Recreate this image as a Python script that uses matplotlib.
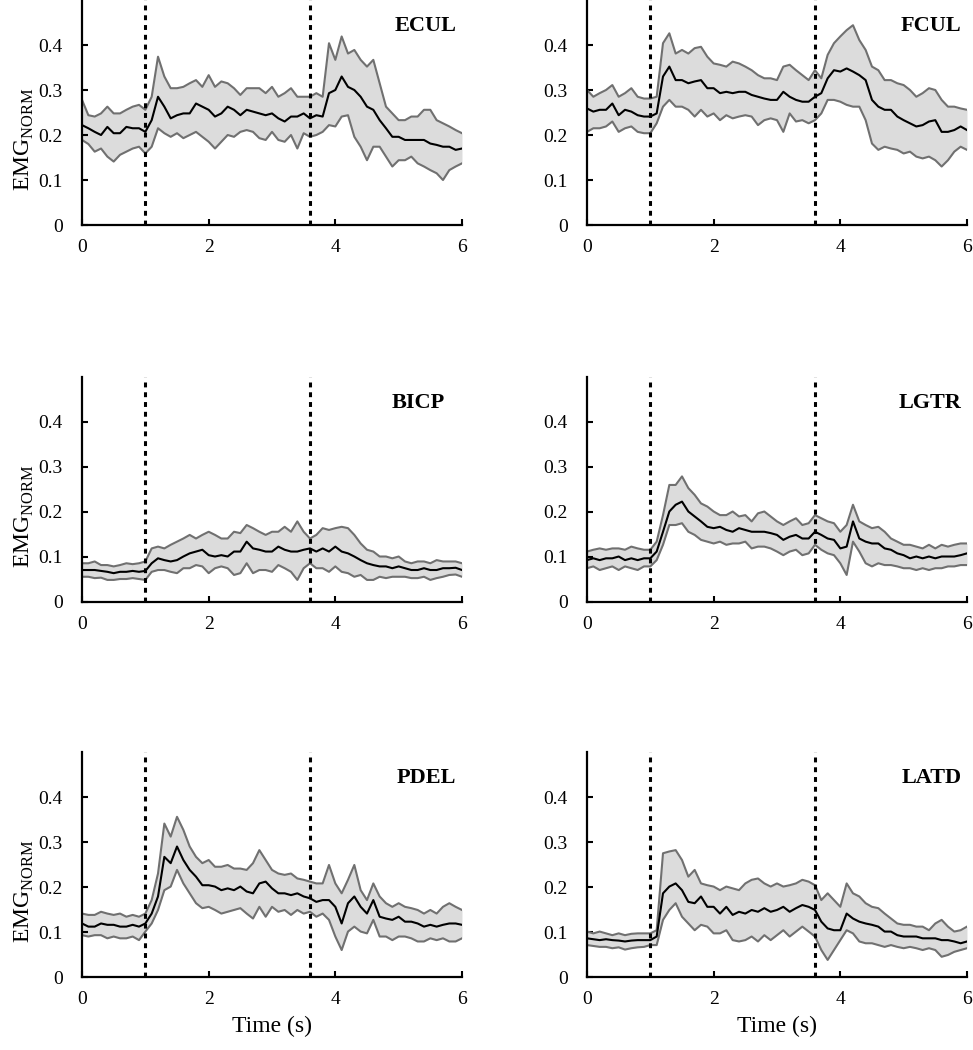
import numpy as np
import matplotlib
matplotlib.use("Agg")
import matplotlib.pyplot as plt

plt.rcParams['font.family'] = ['Liberation Serif', 'DejaVu Serif']
plt.rcParams['mathtext.fontset'] = 'custom'
plt.rcParams['mathtext.rm'] = 'Liberation Serif'

# time axis (s), sampled every 0.1 s
t = np.round(np.arange(0, 61) * 0.1, 1)
onsets = [1.0, 3.6]
yticks = [0, 0.1, 0.2, 0.3, 0.4]
ytick_labels = ['0', '0.1', '0.2', '0.3', '0.4']
xticks = [0, 2, 4, 6]

# ECUL
ecul_mean = [0.222, 0.215, 0.207, 0.200, 0.218, 0.204, 0.204, 0.218, 0.215, 0.215, 0.207,
             0.233, 0.285, 0.263, 0.237, 0.244, 0.248, 0.248, 0.270, 0.263, 0.256,
             0.241, 0.248, 0.263, 0.256, 0.244, 0.256, 0.252, 0.248, 0.244, 0.248,
             0.237, 0.230, 0.241, 0.241, 0.248, 0.237, 0.244, 0.241, 0.293, 0.300,
             0.330, 0.307, 0.300, 0.285, 0.263, 0.256, 0.233, 0.215, 0.196, 0.196,
             0.189, 0.189, 0.189, 0.189, 0.181, 0.178, 0.174, 0.174, 0.167, 0.170]
ecul_hi = [0.278, 0.244, 0.241, 0.248, 0.263, 0.248, 0.248, 0.256, 0.263, 0.267, 0.256,
           0.285, 0.374, 0.330, 0.304, 0.304, 0.307, 0.315, 0.322, 0.307, 0.333,
           0.307, 0.319, 0.315, 0.304, 0.289, 0.304, 0.304, 0.304, 0.293, 0.307,
           0.285, 0.293, 0.304, 0.285, 0.285, 0.285, 0.293, 0.285, 0.404, 0.367,
           0.419, 0.381, 0.389, 0.367, 0.352, 0.367, 0.315, 0.263, 0.248, 0.233,
           0.233, 0.241, 0.241, 0.256, 0.256, 0.233, 0.226, 0.219, 0.211, 0.204]
ecul_lo = [0.189, 0.180, 0.163, 0.170, 0.152, 0.141, 0.156, 0.163, 0.170, 0.174, 0.159,
           0.174, 0.215, 0.204, 0.196, 0.204, 0.193, 0.200, 0.207, 0.196, 0.185,
           0.170, 0.185, 0.200, 0.196, 0.207, 0.211, 0.207, 0.193, 0.189, 0.207,
           0.189, 0.185, 0.200, 0.170, 0.204, 0.196, 0.200, 0.207, 0.222, 0.219,
           0.241, 0.244, 0.196, 0.174, 0.144, 0.174, 0.174, 0.152, 0.130, 0.144,
           0.144, 0.152, 0.137, 0.130, 0.122, 0.115, 0.100, 0.122, 0.130, 0.137]

# FCUL
fcul_mean = [0.259, 0.252, 0.256, 0.256, 0.270, 0.244, 0.256, 0.252, 0.244, 0.241, 0.241,
             0.248, 0.330, 0.352, 0.322, 0.322, 0.315, 0.319, 0.322, 0.304, 0.304,
             0.293, 0.296, 0.293, 0.296, 0.296, 0.289, 0.285, 0.281, 0.278, 0.278,
             0.296, 0.285, 0.278, 0.274, 0.274, 0.285, 0.293, 0.326, 0.344, 0.341,
             0.348, 0.341, 0.333, 0.322, 0.278, 0.263, 0.256, 0.256, 0.241, 0.233,
             0.226, 0.219, 0.222, 0.230, 0.233, 0.207, 0.207, 0.211, 0.219, 0.211]
fcul_hi = [0.300, 0.285, 0.293, 0.300, 0.311, 0.285, 0.293, 0.304, 0.285, 0.281, 0.281,
           0.285, 0.404, 0.426, 0.381, 0.389, 0.381, 0.393, 0.396, 0.374, 0.359,
           0.356, 0.352, 0.363, 0.359, 0.352, 0.344, 0.333, 0.326, 0.326, 0.322,
           0.352, 0.356, 0.344, 0.333, 0.322, 0.344, 0.326, 0.378, 0.404, 0.419,
           0.433, 0.444, 0.411, 0.389, 0.352, 0.344, 0.322, 0.322, 0.315, 0.311,
           0.300, 0.285, 0.293, 0.304, 0.300, 0.278, 0.263, 0.263, 0.259, 0.256]
fcul_lo = [0.207, 0.215, 0.215, 0.219, 0.230, 0.207, 0.215, 0.219, 0.207, 0.204, 0.204,
           0.226, 0.263, 0.278, 0.263, 0.263, 0.256, 0.241, 0.256, 0.241, 0.248,
           0.233, 0.244, 0.237, 0.241, 0.244, 0.241, 0.222, 0.233, 0.237, 0.233,
           0.207, 0.248, 0.230, 0.233, 0.226, 0.233, 0.248, 0.278, 0.278, 0.274,
           0.267, 0.263, 0.263, 0.233, 0.181, 0.167, 0.174, 0.170, 0.167, 0.159,
           0.163, 0.152, 0.148, 0.152, 0.144, 0.130, 0.144, 0.163, 0.174, 0.167]

# BICP
bicp_mean = [0.071, 0.071, 0.071, 0.069, 0.067, 0.064, 0.067, 0.067, 0.069, 0.067, 0.069,
             0.086, 0.097, 0.093, 0.090, 0.093, 0.101, 0.108, 0.112, 0.116, 0.104,
             0.101, 0.104, 0.101, 0.112, 0.112, 0.134, 0.119, 0.116, 0.112, 0.112,
             0.123, 0.116, 0.112, 0.112, 0.116, 0.119, 0.112, 0.119, 0.112, 0.123,
             0.112, 0.108, 0.101, 0.093, 0.086, 0.082, 0.079, 0.079, 0.075, 0.079,
             0.075, 0.071, 0.071, 0.075, 0.071, 0.071, 0.075, 0.075, 0.076, 0.071]
bicp_hi = [0.086, 0.086, 0.090, 0.082, 0.082, 0.079, 0.082, 0.086, 0.084, 0.086, 0.090,
           0.119, 0.123, 0.119, 0.127, 0.134, 0.141, 0.149, 0.141, 0.149, 0.156,
           0.149, 0.141, 0.141, 0.156, 0.153, 0.171, 0.164, 0.156, 0.149, 0.156,
           0.156, 0.167, 0.156, 0.179, 0.156, 0.141, 0.149, 0.164, 0.160, 0.164,
           0.167, 0.164, 0.149, 0.130, 0.116, 0.112, 0.101, 0.101, 0.097, 0.101,
           0.090, 0.086, 0.090, 0.090, 0.086, 0.093, 0.090, 0.090, 0.090, 0.086]
bicp_lo = [0.056, 0.056, 0.053, 0.054, 0.049, 0.049, 0.051, 0.051, 0.053, 0.051, 0.049,
           0.067, 0.071, 0.071, 0.067, 0.064, 0.075, 0.075, 0.082, 0.079, 0.064,
           0.075, 0.079, 0.075, 0.060, 0.064, 0.086, 0.064, 0.071, 0.071, 0.067,
           0.082, 0.075, 0.067, 0.049, 0.075, 0.086, 0.075, 0.075, 0.067, 0.079,
           0.067, 0.064, 0.056, 0.060, 0.049, 0.049, 0.056, 0.053, 0.056, 0.056,
           0.056, 0.053, 0.053, 0.056, 0.049, 0.053, 0.056, 0.060, 0.061, 0.056]

# LGTR
lgtr_mean = [0.093, 0.097, 0.093, 0.097, 0.097, 0.101, 0.093, 0.097, 0.093, 0.097, 0.097,
             0.112, 0.156, 0.201, 0.216, 0.223, 0.201, 0.190, 0.179, 0.167, 0.164,
             0.167, 0.160, 0.156, 0.164, 0.160, 0.156, 0.156, 0.156, 0.153, 0.149,
             0.138, 0.145, 0.149, 0.141, 0.141, 0.156, 0.149, 0.141, 0.138, 0.119,
             0.123, 0.179, 0.141, 0.134, 0.130, 0.130, 0.119, 0.116, 0.108, 0.104,
             0.097, 0.101, 0.097, 0.101, 0.097, 0.101, 0.101, 0.101, 0.104, 0.108]
lgtr_hi = [0.112, 0.116, 0.119, 0.116, 0.119, 0.119, 0.116, 0.123, 0.119, 0.116, 0.116,
           0.134, 0.193, 0.260, 0.260, 0.279, 0.253, 0.238, 0.219, 0.212, 0.201,
           0.193, 0.193, 0.201, 0.190, 0.193, 0.179, 0.197, 0.201, 0.190, 0.179,
           0.171, 0.179, 0.186, 0.171, 0.175, 0.193, 0.186, 0.179, 0.175, 0.156,
           0.171, 0.216, 0.179, 0.171, 0.164, 0.167, 0.156, 0.141, 0.134, 0.127,
           0.127, 0.123, 0.119, 0.127, 0.119, 0.127, 0.123, 0.127, 0.130, 0.130]
lgtr_lo = [0.075, 0.079, 0.071, 0.075, 0.079, 0.071, 0.079, 0.075, 0.071, 0.079, 0.079,
           0.093, 0.127, 0.171, 0.171, 0.175, 0.156, 0.149, 0.138, 0.134, 0.130,
           0.134, 0.127, 0.130, 0.130, 0.134, 0.119, 0.123, 0.123, 0.119, 0.112,
           0.104, 0.112, 0.116, 0.104, 0.108, 0.127, 0.116, 0.108, 0.104, 0.086,
           0.060, 0.134, 0.112, 0.086, 0.079, 0.086, 0.082, 0.082, 0.079, 0.075,
           0.075, 0.071, 0.075, 0.071, 0.075, 0.075, 0.079, 0.079, 0.082, 0.082]

# PDEL
pdel_mean = [0.119, 0.112, 0.112, 0.119, 0.116, 0.116, 0.112, 0.112, 0.116, 0.112, 0.119,
             0.141, 0.179, 0.267, 0.253, 0.290, 0.260, 0.238, 0.223, 0.204, 0.204,
             0.201, 0.193, 0.197, 0.193, 0.201, 0.190, 0.186, 0.208, 0.212, 0.197,
             0.186, 0.186, 0.182, 0.186, 0.179, 0.175, 0.167, 0.171, 0.171, 0.156,
             0.119, 0.164, 0.179, 0.156, 0.141, 0.171, 0.134, 0.130, 0.127, 0.134,
             0.123, 0.123, 0.119, 0.112, 0.116, 0.112, 0.116, 0.119, 0.119, 0.116]
pdel_hi = [0.141, 0.138, 0.138, 0.145, 0.141, 0.138, 0.141, 0.134, 0.138, 0.134, 0.141,
           0.171, 0.230, 0.341, 0.312, 0.356, 0.327, 0.290, 0.267, 0.253, 0.260,
           0.245, 0.245, 0.249, 0.241, 0.241, 0.238, 0.253, 0.282, 0.260, 0.238,
           0.230, 0.227, 0.230, 0.219, 0.216, 0.212, 0.208, 0.208, 0.249, 0.208,
           0.186, 0.216, 0.249, 0.193, 0.171, 0.208, 0.179, 0.164, 0.156, 0.164,
           0.156, 0.153, 0.149, 0.141, 0.149, 0.141, 0.156, 0.164, 0.156, 0.149]
pdel_lo = [0.093, 0.090, 0.093, 0.093, 0.086, 0.090, 0.086, 0.086, 0.090, 0.082, 0.101,
           0.119, 0.149, 0.193, 0.201, 0.238, 0.208, 0.186, 0.164, 0.153, 0.156,
           0.149, 0.141, 0.145, 0.149, 0.153, 0.141, 0.130, 0.156, 0.134, 0.156,
           0.145, 0.149, 0.138, 0.149, 0.141, 0.145, 0.134, 0.141, 0.127, 0.090,
           0.060, 0.101, 0.112, 0.101, 0.097, 0.127, 0.090, 0.090, 0.082, 0.090,
           0.090, 0.086, 0.079, 0.079, 0.086, 0.082, 0.086, 0.079, 0.079, 0.086]

# LATD
latd_mean = [0.086, 0.084, 0.082, 0.084, 0.082, 0.081, 0.079, 0.081, 0.082, 0.082, 0.082,
             0.090, 0.186, 0.201, 0.208, 0.193, 0.167, 0.164, 0.179, 0.156, 0.156,
             0.141, 0.156, 0.138, 0.145, 0.141, 0.149, 0.145, 0.153, 0.145, 0.149,
             0.156, 0.145, 0.153, 0.160, 0.156, 0.149, 0.123, 0.108, 0.104, 0.104,
             0.141, 0.130, 0.123, 0.119, 0.116, 0.112, 0.101, 0.101, 0.093, 0.090,
             0.090, 0.090, 0.086, 0.086, 0.086, 0.082, 0.082, 0.079, 0.075, 0.079]
latd_hi = [0.101, 0.097, 0.101, 0.097, 0.093, 0.097, 0.093, 0.096, 0.097, 0.097, 0.097,
           0.104, 0.275, 0.279, 0.282, 0.260, 0.223, 0.238, 0.208, 0.204, 0.201,
           0.193, 0.201, 0.197, 0.193, 0.208, 0.216, 0.219, 0.208, 0.201, 0.208,
           0.201, 0.204, 0.208, 0.216, 0.212, 0.204, 0.171, 0.186, 0.171, 0.156,
           0.208, 0.186, 0.179, 0.164, 0.156, 0.153, 0.141, 0.130, 0.119, 0.116,
           0.116, 0.112, 0.112, 0.104, 0.119, 0.127, 0.112, 0.101, 0.104, 0.112]
latd_lo = [0.071, 0.069, 0.067, 0.067, 0.064, 0.066, 0.061, 0.064, 0.066, 0.067, 0.071,
           0.071, 0.127, 0.149, 0.164, 0.134, 0.119, 0.104, 0.116, 0.112, 0.097,
           0.097, 0.104, 0.082, 0.079, 0.082, 0.090, 0.079, 0.093, 0.082, 0.093,
           0.104, 0.090, 0.101, 0.112, 0.101, 0.090, 0.060, 0.038, 0.060, 0.082,
           0.104, 0.097, 0.079, 0.075, 0.075, 0.071, 0.067, 0.071, 0.067, 0.064,
           0.067, 0.064, 0.060, 0.064, 0.060, 0.045, 0.049, 0.056, 0.060, 0.064]

panels = [
    ("ECUL", ecul_mean, ecul_lo, ecul_hi),
    ("FCUL", fcul_mean, fcul_lo, fcul_hi),
    ("BICP", bicp_mean, bicp_lo, bicp_hi),
    ("LGTR", lgtr_mean, lgtr_lo, lgtr_hi),
    ("PDEL", pdel_mean, pdel_lo, pdel_hi),
    ("LATD", latd_mean, latd_lo, latd_hi),
]

fig = plt.figure(figsize=(9.73, 10.5), dpi=100)
lefts = [0.0843, 0.6033]
bottoms = [0.7857, 0.4267, 0.0695]
w, h = 0.3905, 0.2143

for i, (name, m, lo, hi) in enumerate(panels):
    row, col = divmod(i, 2)
    ax = fig.add_axes([lefts[col], bottoms[row], w, h])
    ax.fill_between(t, lo, hi, color='#dcdcdc', lw=0)
    ax.plot(t, hi, color='#707070', lw=1.5)
    ax.plot(t, lo, color='#707070', lw=1.5)
    ax.plot(t, m, color='black', lw=1.5)
    for x0 in onsets:
        ax.axvline(x0, color='black', lw=2.2, ls=(0, (1.6, 1.6)))
    ax.set_xlim(0, 6)
    ax.set_ylim(0, 0.5)
    ax.set_xticks(xticks)
    ax.set_yticks(yticks)
    ax.set_yticklabels(ytick_labels)
    for s in ['top', 'right']:
        ax.spines[s].set_visible(False)
    for s in ['left', 'bottom']:
        ax.spines[s].set_linewidth(1.6)
    ax.tick_params(direction='in', length=4, width=1.5, labelsize=14)
    ax.tick_params(axis='y', pad=14)
    ax.tick_params(axis='x', pad=10)
    tx = 0.955 if name == "BICP" else 0.985
    ax.text(tx, 0.885, name, transform=ax.transAxes, ha='right', va='center',
            fontsize=16, fontweight='bold')
    if col == 0:
        ax.set_ylabel(r'EMG$_{\rm NORM}$', fontsize=17)
        ax.yaxis.set_label_coords(-0.12, 0.38)
    if row == 2:
        ax.set_xlabel('Time (s)', fontsize=17, labelpad=6)

fig.savefig('out.png', dpi=100)
